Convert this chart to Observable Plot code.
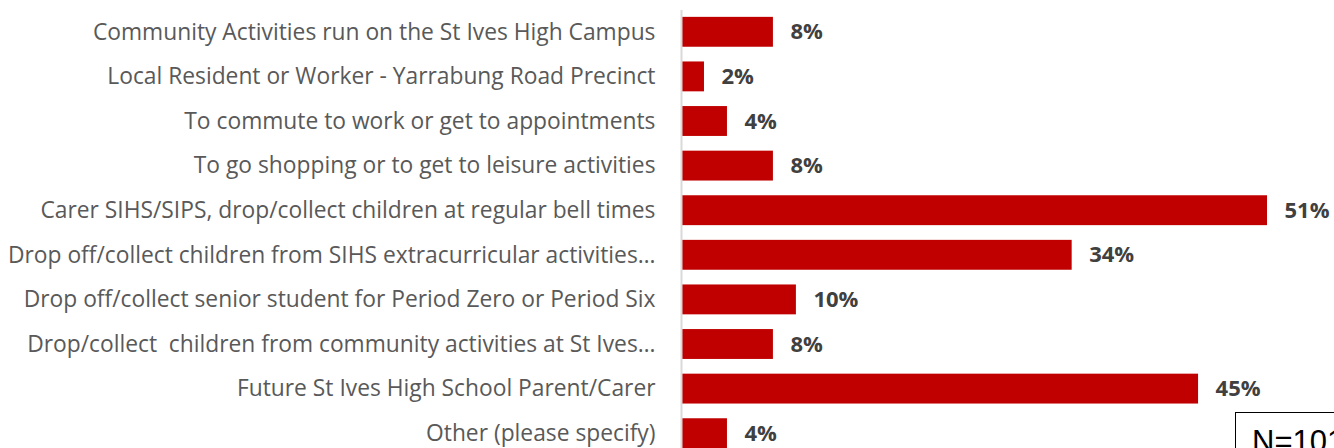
<!DOCTYPE html>
<html>
<head>
<meta charset="utf-8">
<script src="https://cdn.jsdelivr.net/npm/d3@7"></script>
<script src="https://cdn.jsdelivr.net/npm/@observablehq/plot@0.6"></script>
<style>
  html, body { margin: 0; padding: 0; background: #fff; }
  #wrap { position: relative; width: 1334px; height: 448px; overflow: hidden; }
  #nbox { position: absolute; left: 1235px; top: 412px; width: 160px; height: 60px;
          border: 1px solid #000; background: #fff; box-sizing: border-box;
          font-family: "Liberation Sans", Arial, sans-serif; font-size: 31px; line-height: 1;
          color: #000; white-space: nowrap; padding: 13px 0 0 16px; }
</style>
</head>
<body>
<div id="wrap"></div>
<script>
const categories = [
  "Community Activities run on the St Ives High Campus",
  "Local Resident or Worker - Yarrabung Road Precinct",
  "To commute to work or get to appointments",
  "To go shopping or to get to leisure activities",
  "Carer SIHS/SIPS, drop/collect children at regular bell times",
  "Drop off/collect children from SIHS extracurricular activities…",
  "Drop off/collect senior student for Period Zero or Period Six",
  "Drop/collect  children from community activities at St Ives…",
  "Future St Ives High School Parent/Carer",
  "Other (please specify)"
];
const values = [8, 2, 4, 8, 51, 34, 10, 8, 45, 4];
const noteText = "N=101";

const data = categories.map((c, i) => ({category: c, value: values[i]}));

const chart = Plot.plot({
  width: 1334,
  height: 448,
  marginLeft: 681,
  marginRight: 67,
  marginTop: 10,
  marginBottom: 0,
  style: {fontFamily: "'Open Sans', sans-serif", background: "#fff", overflow: "visible"},
  x: {domain: [0, 51], axis: null},
  y: {domain: categories, range: [9.5, 455.5], round: false, paddingInner: 0.33, paddingOuter: 0.165, label: null},
  marks: [
    Plot.barX(data, {x: "value", y: "category", fill: "#C00000"}),
    Plot.ruleX([0], {stroke: "#d9d9d9", strokeWidth: 2}),
    Plot.axisY({tickSize: 0, tickPadding: 26, fontSize: 22.8, fill: "#595959", label: null,
                tickFormat: d => d}),
    Plot.text(data, {x: "value", y: "category", text: d => d.value + "%", dx: 17,
                     textAnchor: "start", fontWeight: "bold", fontSize: 22, fill: "#404040"})
  ]
});
chart.style.display = "block";
document.getElementById("wrap").appendChild(chart);
const nb = document.createElement("div");
nb.id = "nbox";
nb.textContent = noteText;
document.getElementById("wrap").appendChild(nb);
</script>
</body>
</html>
